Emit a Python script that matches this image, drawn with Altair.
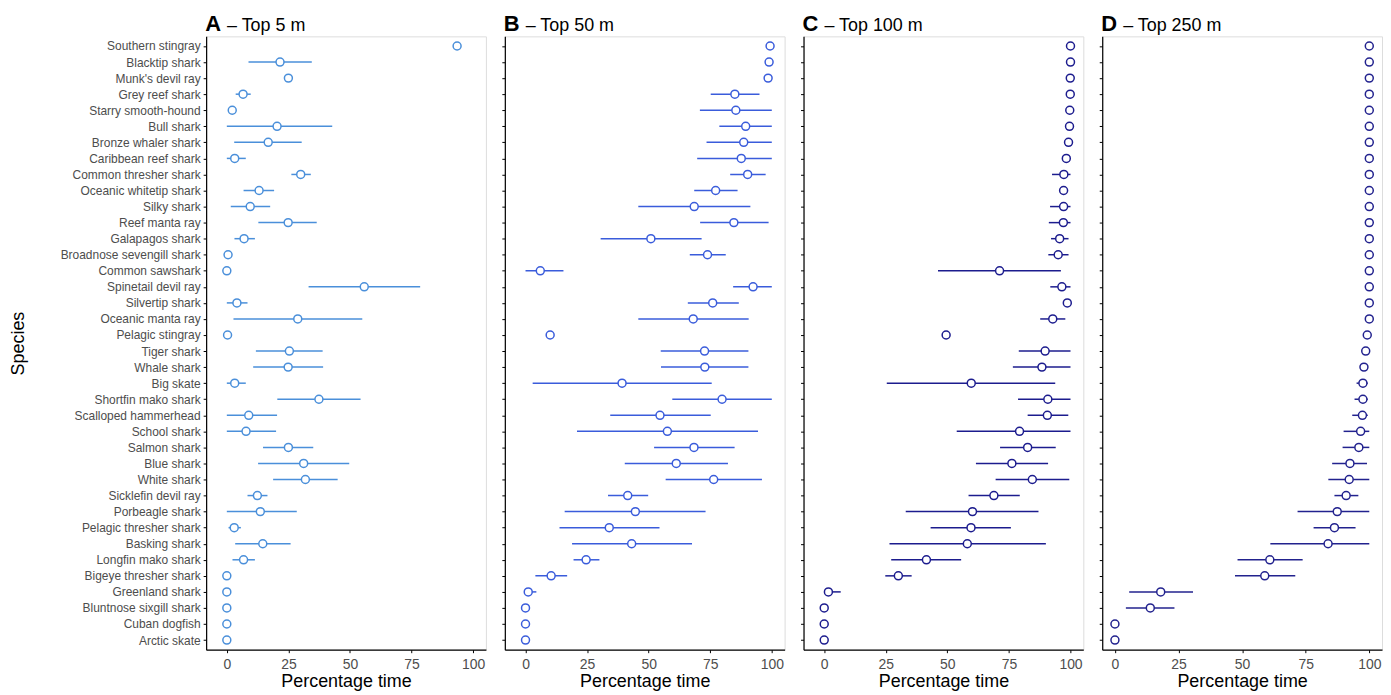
import altair as alt
import pandas as pd

species = ["Southern stingray", "Blacktip shark", "Munk's devil ray", "Grey reef shark",
           "Starry smooth-hound", "Bull shark", "Bronze whaler shark", "Caribbean reef shark",
           "Common thresher shark", "Oceanic whitetip shark", "Silky shark", "Reef manta ray",
           "Galapagos shark", "Broadnose sevengill shark", "Common sawshark", "Spinetail devil ray",
           "Silvertip shark", "Oceanic manta ray", "Pelagic stingray", "Tiger shark", "Whale shark",
           "Big skate", "Shortfin mako shark", "Scalloped hammerhead", "School shark", "Salmon shark",
           "Blue shark", "White shark", "Sicklefin devil ray", "Porbeagle shark",
           "Pelagic thresher shark", "Basking shark", "Longfin mako shark", "Bigeye thresher shark",
           "Greenland shark", "Bluntnose sixgill shark", "Cuban dogfish", "Arctic skate"]

# Panel A - Top 5 m
a_mean = [93.5, 21.6, 25.0, 6.6, 2.2, 20.4, 16.8, 3.2, 30.0, 13.1, 9.5, 24.9, 7.0, 0.5, 0.0, 55.8,
          4.1, 28.8, 0.3, 25.4, 24.9, 3.2, 37.4, 8.9, 7.8, 25.0, 31.2, 31.9, 12.4, 13.6, 3.0, 14.6,
          6.8, 0, 0, 0, 0, 0]
a_lo = [93.5, 8.8, 25.0, 3.6, 2.2, 0, 3.0, 0, 26.2, 6.8, 1.6, 12.8, 3.1, 0.5, 0, 33.2, 0, 2.7,
        0.3, 11.8, 10.7, 0, 20.5, 0, 0, 14.7, 12.7, 18.8, 8.4, 0, 0.7, 3.4, 2.3, 0, 0, 0, 0, 0]
a_hi = [93.5, 34.5, 25.0, 9.7, 2.2, 42.8, 30.4, 7.7, 34.1, 19.2, 17.6, 36.5, 11.4, 0.5, 0, 78.5,
        8.4, 55.0, 0.3, 38.9, 39.1, 7.7, 54.3, 20.4, 20.0, 35.1, 49.7, 45.0, 16.5, 28.4, 5.7, 25.9,
        11.4, 0, 0, 0, 0, 0]

# Panel B - Top 50 m
b_mean = [99.3, 98.9, 98.5, 85.0, 85.4, 89.4, 88.6, 87.6, 90.2, 77.2, 68.5, 84.6, 50.9, 73.9, 6.0,
          92.4, 76.0, 68.1, 10.0, 72.7, 72.8, 39.2, 79.8, 54.6, 57.6, 68.4, 61.2, 76.4, 41.5, 44.6,
          34.0, 43.1, 24.6, 10.4, 1.1, 0, 0, 0]
b_lo = [99.3, 98.9, 98.5, 75.2, 70.8, 78.7, 73.5, 69.7, 83.1, 68.5, 45.8, 70.9, 30.5, 66.7, 0,
        84.3, 65.9, 45.8, 10.0, 54.9, 55.0, 2.9, 59.6, 34.4, 20.9, 52.2, 40.3, 56.9, 33.5, 15.9,
        13.8, 18.9, 19.5, 4.0, 0, 0, 0, 0]
b_hi = [99.3, 98.9, 98.5, 95.0, 100, 100, 100, 100, 97.5, 86.1, 91.3, 98.7, 71.5, 81.3, 15.4,
        100, 86.6, 90.6, 10.0, 90.5, 90.5, 75.6, 100, 75.2, 94.4, 84.9, 82.2, 96.0, 49.8, 73.1,
        54.4, 67.6, 30.0, 16.9, 4.4, 0, 0, 0]

# Panel C - Top 100 m
c_mean = [100, 100, 99.9, 99.9, 99.7, 99.6, 99.2, 98.3, 97.3, 97.2, 97.2, 97.1, 95.6, 95.0, 71.2,
          96.5, 98.7, 92.8, 49.5, 89.7, 88.4, 59.7, 90.8, 90.6, 79.3, 82.6, 76.2, 84.5, 68.9, 60.2,
          59.6, 58.1, 41.5, 30.1, 1.7, 0, 0, 0]
c_lo = [100, 100, 99.9, 99.9, 99.7, 99.6, 99.2, 98.3, 92.5, 97.2, 91.7, 91.2, 92.1, 91.0, 46.2,
        91.8, 98.7, 87.7, 49.5, 79.0, 76.6, 25.4, 78.7, 82.6, 53.8, 71.4, 61.6, 69.6, 58.6, 33.1,
        43.2, 26.5, 27.2, 24.8, 0.4, 0, 0, 0]
c_hi = [100, 100, 99.9, 99.9, 99.7, 99.6, 99.2, 98.3, 100, 97.2, 100, 100, 99.2, 99.2, 96.1,
        100, 98.7, 97.9, 49.5, 100, 100, 93.8, 100, 99.1, 100, 94.0, 90.9, 99.5, 79.4, 87.0,
        75.8, 90.0, 55.6, 35.5, 6.7, 0, 0, 0]

# Panel D - Top 250 m
d_mean = [100] * 18 + [99.2, 98.6, 97.9, 97.5, 97.5, 97.3, 96.6, 95.9, 92.4, 92.1, 90.9, 87.4,
                       86.3, 83.8, 60.9, 58.9, 18.0, 13.9, 0, 0]
d_lo = [100] * 18 + [99.2, 97.5, 97.9, 95.0, 94.2, 93.3, 89.9, 89.5, 85.4, 83.9, 86.3, 71.8,
                     78.1, 61.1, 48.2, 47.2, 5.6, 4.3, 0, 0]
d_hi = [100] * 18 + [99.2, 100, 97.9, 99.4, 99.4, 99.4, 100, 100, 99.1, 100, 95.7, 100,
                     94.6, 100, 73.8, 70.9, 30.7, 23.4, 0, 0]

panels = [
    ("A", "– Top 5 m", "#4A8FDA", a_mean, a_lo, a_hi, [-8.4, 105.2], True),
    ("B", "– Top 50 m", "#3A5CDB", b_mean, b_lo, b_hi, [-8.4, 105.2], False),
    ("C", "– Top 100 m", "#1C1C8E", c_mean, c_lo, c_hi, [-8.4, 105.2], False),
    ("D", "– Top 250 m", "#22228E", d_mean, d_lo, d_hi, [-5, 105], False),
]

FONT = "Liberation Sans"
W, H = 281, 616

charts = []
for letter, sub, col, m, lo, hi, dom, show in panels:
    df = pd.DataFrame({"species": species, "mean": m, "lo": lo, "hi": hi})
    yaxis = alt.Axis(
        labels=show, title="Species" if show else None, ticks=True, tickSize=3,
        tickColor="black", domainColor="black", domainWidth=1.2, labelFontSize=12,
        labelColor="#4D4D4D", labelPadding=3, titleFontSize=18, titleFontWeight="normal",
        titleColor="black", titlePadding=33, labelFont=FONT, titleFont=FONT, grid=False,
    )
    xaxis = alt.Axis(
        values=[0, 25, 50, 75, 100], title="Percentage time", tickSize=3, tickColor="black",
        domainColor="black", domainWidth=1.2, labelFontSize=14, labelColor="#4D4D4D",
        labelPadding=5, titleFontSize=18, titleFontWeight="normal", titleColor="black",
        titlePadding=1, labelFont=FONT, titleFont=FONT, grid=False,
    )
    yenc = alt.Y("species:N", sort=species, scale=alt.Scale(type="point", padding=0.6), axis=yaxis)
    xscale = alt.Scale(domain=dom, nice=False, zero=False)
    base = alt.Chart(df)
    rules = base.mark_rule(color=col, strokeWidth=1.5).encode(
        x=alt.X("lo:Q", scale=xscale, axis=xaxis), x2="hi:Q", y=yenc)
    pts = base.mark_point(shape="circle", filled=True, fill="white", stroke=col,
                          strokeWidth=1.5, size=64, opacity=1).encode(
        x=alt.X("mean:Q", scale=xscale, axis=xaxis), y=yenc)
    t1 = alt.Chart(pd.DataFrame({"t": [letter]})).mark_text(
        font=FONT, fontSize=22, fontWeight="bold", align="left", baseline="alphabetic",
        color="black").encode(text="t:N", x=alt.value(-1), y=alt.value(-5.5))
    t2 = alt.Chart(pd.DataFrame({"t": [sub]})).mark_text(
        font=FONT, fontSize=18, align="left", baseline="alphabetic",
        color="black").encode(text="t:N", x=alt.value(21), y=alt.value(-5.5))
    charts.append(alt.layer(rules, pts, t1, t2).properties(width=W, height=H))

chart = alt.hconcat(*charts, spacing=14).properties(
    padding={"left": 0, "top": 3, "right": 0, "bottom": 2}
).configure_view(stroke="#AAAAAA", strokeWidth=1.2).configure(font=FONT)

chart.save("out.html", embed_options={"renderer": "svg", "actions": False})
